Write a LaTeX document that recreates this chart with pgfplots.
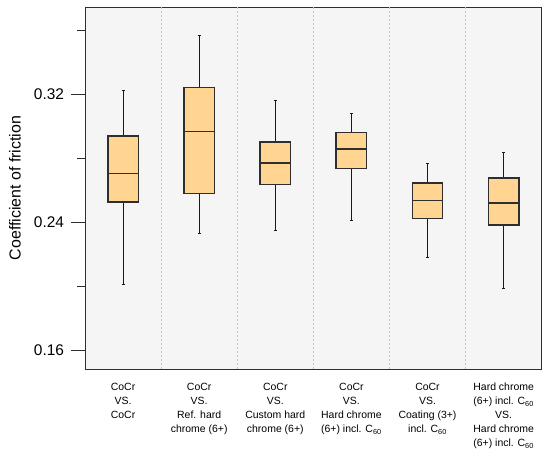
\documentclass[border=0pt]{standalone}
\usepackage{fontspec}
\setmainfont{Liberation Sans}
\usepackage{pgfplots}
\pgfplotsset{compat=1.18}
\usepgfplotslibrary{statistics}
\definecolor{boxfill}{HTML}{FFD591}
\definecolor{bg}{HTML}{F5F5F5}
\definecolor{frame}{HTML}{2E2E2E}
\begin{document}
\begin{tikzpicture}
\begin{axis}[
  name=ax,
  scale only axis,
  width=456.7bp, height=362bp,
  xmin=-0.5, xmax=5.5,
  ymin=0.1481, ymax=0.3744,
  axis background/.style={fill=bg},
  axis on top,
  axis line style={solid, draw=frame, line width=0.9bp},
  tick align=outside,
  xtick pos=lower, ytick pos=left,
  tick style={solid, draw=frame, line width=0.9bp},
  major grid style={dash pattern=on 2bp off 2bp, draw=black!22, line width=0.7bp},
  xtick={0,...,5},
  major x tick style={draw=none},
  xticklabels={
    {CoCr\\VS.\\CoCr},
    {CoCr\\VS.\\Ref. hard\\chrome (6+)},
    {CoCr\\VS.\\Custom hard\\chrome (6+)},
    {CoCr\\VS.\\Hard chrome\\(6+) incl. C\textsubscript{60}},
    {CoCr\\VS.\\Coating (3+)\\incl. C\textsubscript{60}},
    {Hard chrome\\(6+) incl. C\textsubscript{60}\\VS.\\Hard chrome\\(6+) incl. C\textsubscript{60}}
  },
  xticklabel style={align=center, font=\fontsize{10.5}{14.2}\selectfont, anchor=north, inner sep=0pt},
  extra x ticks={0.5,1.5,2.5,3.5,4.5},
  extra x tick labels={},
  extra x tick style={grid=major, major tick length=4.5bp, tick style={solid, draw=frame, line width=0.9bp}},
  ytick={0.16,0.24,0.32},
  minor ytick={0.20,0.28,0.36},
  major tick length=13.5bp, minor tick length=7.5bp,
  /pgf/number format/assume math mode=true,
  yticklabel style={font=\fontsize{15.5}{18}\selectfont, xshift=-4bp, /pgf/number format/fixed, /pgf/number format/fixed zerofill, /pgf/number format/precision=2},
  ylabel={Coefficient of friction},
  ylabel style={font=\fontsize{16}{19}\selectfont, at={(axis description cs:-0.1533,0.5)}, anchor=center},
  boxplot/draw direction=y,
  boxplot/box extend=0.4,
  boxplot/whisker extend=0.04,
  boxplot/every box/.style={solid, draw=frame, fill=boxfill, line width=1.4bp},
  boxplot/every median/.style={solid, draw=frame, line width=1.4bp},
  boxplot/every whisker/.style={solid, draw=black!90, line width=1bp},
]
\addplot[solid, draw=frame, fill=boxfill, line width=1.4bp, mark=none, boxplot prepared={draw position=0, lower whisker=0.201, lower quartile=0.2526, median=0.2703, upper quartile=0.2937, upper whisker=0.322}] coordinates {};
\addplot[solid, draw=frame, fill=boxfill, line width=1.4bp, mark=none, boxplot prepared={draw position=1, lower whisker=0.2328, lower quartile=0.2578, median=0.2964, upper quartile=0.324, upper whisker=0.3563}] coordinates {};
\addplot[solid, draw=frame, fill=boxfill, line width=1.4bp, mark=none, boxplot prepared={draw position=2, lower whisker=0.2348, lower quartile=0.2636, median=0.277, upper quartile=0.2901, upper whisker=0.3162}] coordinates {};
\addplot[solid, draw=frame, fill=boxfill, line width=1.4bp, mark=none, boxplot prepared={draw position=3, lower whisker=0.2411, lower quartile=0.2735, median=0.2856, upper quartile=0.2958, upper whisker=0.3079}] coordinates {};
\addplot[solid, draw=frame, fill=boxfill, line width=1.4bp, mark=none, boxplot prepared={draw position=4, lower whisker=0.2181, lower quartile=0.2422, median=0.2536, upper quartile=0.2645, upper whisker=0.2764}] coordinates {};
\addplot[solid, draw=frame, fill=boxfill, line width=1.4bp, mark=none, boxplot prepared={draw position=5, lower whisker=0.1987, lower quartile=0.238, median=0.2518, upper quartile=0.2674, upper whisker=0.2833}] coordinates {};
\end{axis}
\pgfresetboundingbox
\path ([shift={(-85bp,-85bp)}]ax.south west) rectangle ([shift={(8.3bp,7bp)}]ax.north east);
\end{tikzpicture}
\end{document}
